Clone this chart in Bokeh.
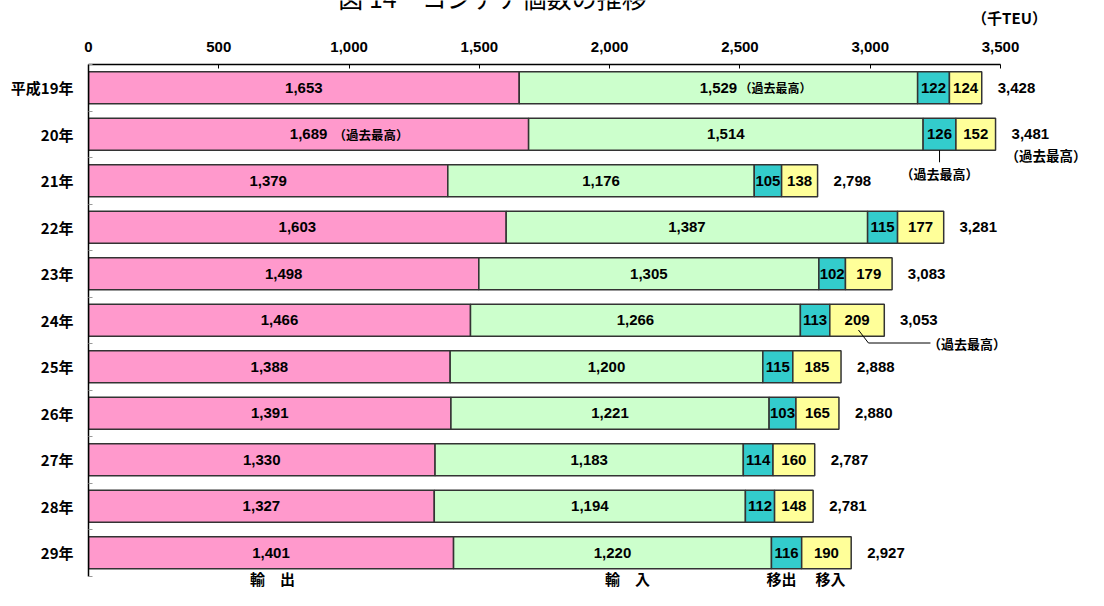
import numpy as np
from bokeh.plotting import figure
from bokeh.layouts import column
from bokeh.models import Range1d, FixedTicker, NumeralTickFormatter
from bokeh.core.properties import value
from bokeh.embed import file_html
from bokeh.resources import INLINE

# ---------------- data ----------------
years = ["平成19年", "20年", "21年", "22年", "23年", "24年",
         "25年", "26年", "27年", "28年", "29年"]
export_teu = [1653, 1689, 1379, 1603, 1498, 1466, 1388, 1391, 1330, 1327, 1401]
import_teu = [1529, 1514, 1176, 1387, 1305, 1266, 1200, 1221, 1183, 1194, 1220]
transfer_out = [122, 126, 105, 115, 102, 113, 115, 103, 114, 112, 116]
transfer_in = [124, 152, 138, 177, 179, 209, 185, 165, 160, 148, 190]
totals = [3428, 3481, 2798, 3281, 3083, 3053, 2888, 2880, 2787, 2781, 2927]
x_ticks = [0, 500, 1000, 1500, 2000, 2500, 3000, 3500]
series_names = ["輸　出", "輸　入", "移出", "移入"]
colors = ["#FF99CC", "#CCFFCC", "#33CCCC", "#FFFF99"]
title_text = "図 14　コンテナ個数の推移"
unit_text = "（千TEU）"
record_text = "（過去最高）"

# ---------------- geometry ----------------
W, H = 1088, 590
HEAD = 30                 # height of the heading strip (title + unit)
LEFT, TOP = 88, 64        # plot frame origin on the page
AXIS_MAX = 3500
AXIS_PX = 912.0
ROW_PX = 46.5
ppu = AXIS_PX / AXIS_MAX
H2 = H - HEAD
x_end = (W - LEFT) / ppu
y_bottom = -0.5 + (H - TOP) / ROW_PX

NUM_FONT = value("Liberation Sans")
CJK_FONT = value("Noto Sans CJK JP")


def px_x(px):
    """horizontal pixel distance -> data units"""
    return px / ppu


def px_y(py):
    """page pixel row -> data units of the main plot"""
    return -0.5 + (py - TOP) / ROW_PX


# ---------------- heading strip (x in page pixels) ----------------
head = figure(width=W, height=HEAD, x_range=Range1d(LEFT, W), y_range=Range1d(HEAD, 0),
              output_backend="svg", toolbar_location=None,
              min_border_left=LEFT, min_border_right=0, min_border_top=0, min_border_bottom=0)
head.axis.visible = False
head.grid.visible = False
head.outline_line_color = None
head.background_fill_color = "white"
head.border_fill_color = "white"
head.text(x=[492], y=[14], text=[title_text], text_align="center", text_baseline="bottom",
          text_font=CJK_FONT, text_font_size="25px", text_color="black")
head.text(x=[1009], y=[17], text=[unit_text], text_align="center", text_baseline="middle",
          text_font=CJK_FONT, text_font_style="bold", text_font_size="15px",
          text_color="black")

# ---------------- main plot ----------------
p = figure(width=W, height=H2, x_range=Range1d(0, x_end),
           y_range=Range1d(y_bottom, -0.5), x_axis_location="above",
           output_backend="svg", toolbar_location=None,
           min_border_left=LEFT, min_border_top=TOP - HEAD,
           min_border_right=0, min_border_bottom=0)
p.outline_line_color = None
p.xgrid.grid_line_color = None
p.ygrid.grid_line_color = None
p.background_fill_color = "white"
p.border_fill_color = "white"

rows = np.arange(len(years))
segs = np.array([export_teu, import_teu, transfer_out, transfer_in], dtype=float)
cum = np.cumsum(segs, axis=0)
lefts = cum - segs
centers = (lefts + cum) / 2

for k in range(4):
    p.hbar(y=rows, left=lefts[k], right=cum[k], height=0.69,
           fill_color=colors[k], line_color="#333333", line_width=1.5)
    p.text(x=centers[k], y=rows, text=[f"{int(v):,}" for v in segs[k]],
           text_align="center", text_baseline="middle",
           text_font=NUM_FONT, text_font_style="bold", text_font_size="15px",
           text_color="black")

# totals
p.text(x=totals, y=rows, text=[f"{v:,}" for v in totals], x_offset=16,
       text_align="left", text_baseline="middle", text_font=NUM_FONT,
       text_font_style="bold", text_font_size="15px", text_color="black")

# record annotations (derived from data maxima)
r_exp = int(np.argmax(export_teu))
r_imp = int(np.argmax(import_teu))
r_out = int(np.argmax(transfer_out))
r_in = int(np.argmax(transfer_in))
r_tot = int(np.argmax(totals))

p.text(x=[centers[0][r_exp]], y=[r_exp], text=[record_text], x_offset=25,
       text_align="left", text_baseline="middle", text_font=CJK_FONT,
       text_font_style="bold", text_font_size="12.5px", text_color="black")
p.text(x=[centers[1][r_imp]], y=[r_imp], text=[record_text], x_offset=21,
       text_align="left", text_baseline="middle", text_font=CJK_FONT,
       text_font_style="bold", text_font_size="12px", text_color="black")

# transfer-out record callout (vertical)
xo = centers[2][r_out]
p.line(x=[xo, xo], y=[r_out + 0.345, r_out + 28 / ROW_PX], line_color="black", line_width=1)
p.text(x=[xo], y=[r_out + 39 / ROW_PX], text=[record_text],
       text_align="center", text_baseline="middle", text_font=CJK_FONT,
       text_font_style="bold", text_font_size="13px", text_color="black")

# transfer-in record callout (diagonal + horizontal)
xi = centers[3][r_in]
p.line(x=[xi + px_x(1.4), xi + px_x(11.4), xi + px_x(73.4)],
       y=[r_in + 9.75 / ROW_PX, r_in + 22.75 / ROW_PX, r_in + 22.75 / ROW_PX],
       line_color="black", line_width=1)
p.text(x=[xi + px_x(71)], y=[r_in + 22.75 / ROW_PX], text=[record_text],
       text_align="left", text_baseline="middle", text_font=CJK_FONT,
       text_font_style="bold", text_font_size="13px", text_color="black")

# total record
p.text(x=[totals[r_tot]], y=[r_tot + 21 / ROW_PX], text=[record_text], x_offset=10,
       text_align="left", text_baseline="middle", text_font=CJK_FONT,
       text_font_style="bold", text_font_size="13.5px", text_color="black")

# series names along the bottom
label_px = [184, 539, 693, 742]
p.text(x=[px_x(v) for v in label_px], y=[px_y(578)] * 4, text=series_names,
       text_align="center", text_baseline="middle", text_font=CJK_FONT,
       text_font_style="bold", text_font_size="15px", text_color="black")

# x axis (top)
xa = p.xaxis[0]
xa.ticker = FixedTicker(ticks=x_ticks)
xa.formatter = NumeralTickFormatter(format="0,0")
xa.bounds = (0, AXIS_MAX)
xa.major_tick_in = 4
xa.major_tick_out = 0
xa.minor_tick_line_color = None
xa.axis_line_width = 1.5
xa.axis_line_color = "black"
xa.major_tick_line_color = "black"
xa.major_label_standoff = 13
xa.major_label_text_font = "Liberation Sans"
xa.major_label_text_font_style = "bold"
xa.major_label_text_font_size = "15px"
xa.major_label_text_color = "black"

# y axis (left)
ya = p.yaxis[0]
ya.ticker = FixedTicker(ticks=list(rows.astype(float)),
                        minor_ticks=[i - 0.5 for i in range(len(years) + 1)])
ya.major_label_overrides = {int(i): years[i] for i in rows}
ya.bounds = (-0.5, len(years) - 0.5)
ya.major_tick_line_color = None
ya.minor_tick_in = 4
ya.minor_tick_out = 0
ya.minor_tick_line_color = "#999999"
ya.axis_line_width = 1.5
ya.axis_line_color = "black"
ya.major_label_standoff = 9
ya.major_label_text_font = "Noto Sans CJK JP"
ya.major_label_text_font_style = "bold"
ya.major_label_text_font_size = "15px"
ya.major_label_text_color = "black"

layout = column(head, p, spacing=0)
open("out.html", "w").write(file_html(layout, INLINE))
